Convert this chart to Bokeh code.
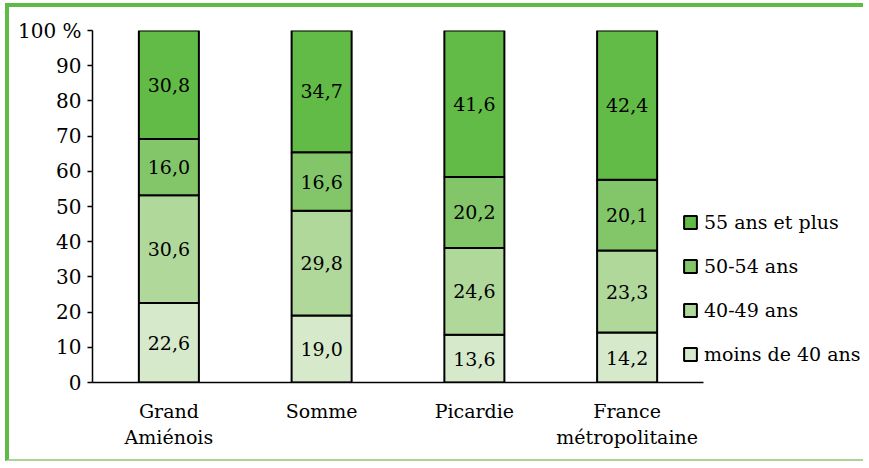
import numpy as np
from bokeh.plotting import figure
from bokeh.models import Range1d, Legend, LegendItem, ColumnDataSource, FixedTicker, InlineStyleSheet
from bokeh.core.properties import value
from bokeh.embed import file_html
from bokeh.resources import INLINE

# ---- data ----
categories = ["Grand\nAmiénois", "Somme", "Picardie", "France\nmétropolitaine"]
series_names = ["moins de 40 ans", "40-49 ans", "50-54 ans", "55 ans et plus"]
moins_40 = [22.6, 19.0, 13.6, 14.2]
ans_40_49 = [30.6, 29.8, 24.6, 23.3]
ans_50_54 = [16.0, 16.6, 20.2, 20.1]
ans_55_plus = [30.8, 34.7, 41.6, 42.4]
y_ticks = [0, 10, 20, 30, 40, 50, 60, 70, 80, 90, 100]

colors = ["#D6EACB", "#B0D89B", "#83C66A", "#62BB46"]
FONT = "DejaVu Serif"

series = [moins_40, ans_40_49, ans_50_54, ans_55_plus]
keys = ["s0", "s1", "s2", "s3"]
n = len(categories)
xs = list(np.arange(n) + 0.5)
data = {"x": xs}
for k, s in zip(keys, series):
    data[k] = s
source = ColumnDataSource(data)

W, H = 858, 458
LEFT, TOP, BOTTOM = 83, 23, 83
frame_w = W - LEFT
cat_w = 152.75

p = figure(
    x_range=Range1d(0, frame_w / cat_w),
    y_range=Range1d(0, 100),
    width=W, height=H,
    output_backend="svg", toolbar_location=None,
    min_border_left=LEFT, min_border_right=0, min_border_top=TOP, min_border_bottom=BOTTOM,
)
p.stylesheets = [InlineStyleSheet(css=":host { margin: 3px 0 0 5px; border-top: 4px solid #5DBB46; border-left: 4px solid #5DBB46; border-bottom: 2px solid #A8D592; }")]

renderers = p.vbar_stack(keys, x="x", width=0.393, source=source,
                         color=colors, line_color="black", line_width=2)

# segment labels
for i, s in enumerate(series):
    bottoms = [sum(series[j][c] for j in range(i)) for c in range(n)]
    mids = [b + v / 2 for b, v in zip(bottoms, s)]
    txt = [f"{v:.1f}".replace(".", ",") for v in s]
    p.text(x=xs, y=mids, text=txt, text_align="center", text_baseline="middle",
           text_font=value(FONT), text_font_size="19px", text_color="black")

# legend
items = [LegendItem(label=series_names[i], renderers=[renderers[i]]) for i in [3, 2, 1, 0]]
legend = Legend(items=items, location=(590, 17), padding=0, margin=0,
                border_line_color=None, background_fill_alpha=0,
                glyph_width=16, glyph_height=16, label_standoff=6, spacing=22,
                label_text_font=FONT, label_text_font_size="19px", label_text_color="black")
p.add_layout(legend)

# styling
p.grid.visible = False
p.outline_line_color = None
p.background_fill_color = "white"
p.border_fill_color = "white"

p.yaxis.ticker = FixedTicker(ticks=y_ticks)
p.yaxis.major_label_overrides = {100: "100 %"}
p.yaxis.major_tick_in = 0
p.yaxis.major_tick_out = 5
p.yaxis.minor_tick_line_color = None
p.yaxis.axis_line_color = "black"
p.yaxis.axis_line_width = 1.5
p.yaxis.major_tick_line_width = 1.5
p.yaxis.major_label_standoff = 6
p.yaxis.major_label_text_font = FONT
p.yaxis.major_label_text_font_size = "20px"
p.yaxis.major_label_text_color = "black"

p.xaxis.ticker = FixedTicker(ticks=xs)
p.xaxis.major_label_overrides = {float(x): c for x, c in zip(xs, categories)}
p.xaxis.bounds = (0, n)
p.xaxis.major_tick_line_color = None
p.xaxis.minor_tick_line_color = None
p.xaxis.major_tick_in = 0
p.xaxis.major_tick_out = 0
p.xaxis.axis_line_color = "black"
p.xaxis.axis_line_width = 1.5
p.xaxis.major_label_standoff = 17
p.xaxis.major_label_text_font = FONT
p.xaxis.major_label_text_font_size = "19px"
p.xaxis.major_label_text_color = "black"
p.xaxis.major_label_orientation = "horizontal"

open("out.html", "w").write(file_html(p, INLINE))
